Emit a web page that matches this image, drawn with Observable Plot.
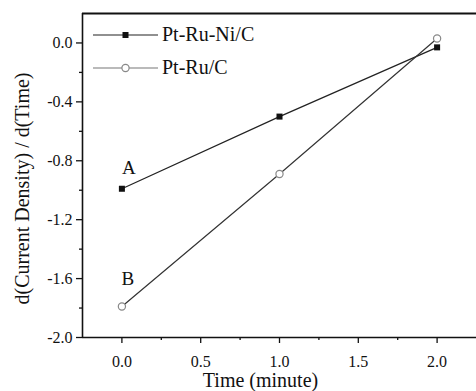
<!DOCTYPE html>
<html>
<head>
<meta charset="utf-8">
<script src="https://cdn.jsdelivr.net/npm/d3@7"></script>
<script src="https://cdn.jsdelivr.net/npm/@observablehq/plot@0.6"></script>
<style>
  html, body { margin: 0; padding: 0; background: #fff; }
  #wrap { position: relative; width: 476px; height: 391px; overflow: hidden; font-family: "Liberation Serif", "Times New Roman", serif; }
  #wrap svg text { font-family: "Liberation Serif", "Times New Roman", serif; }
  #legend { position: absolute; left: 93px; top: 18px; }
  .row { display: flex; align-items: center; height: 33px; }
  .row span { font-size: 20px; color: #111; margin-left: 4px; font-family: "Liberation Serif", serif; }
</style>
</head>
<body>
<div id="wrap"><div id="legend"></div></div>
<script>
const times = [0, 1, 2];
const ptRuNi = [-0.99, -0.50, -0.03];
const ptRu = [-1.79, -0.89, 0.03];
const seriesNames = ["Pt-Ru-Ni/C", "Pt-Ru/C"];
const pointLabels = ["A", "B"];
const xDomain = [-0.25, 2.25];
const yDomain = [-2.0, 0.2];
const xTicks = [0, 0.5, 1.0, 1.5, 2.0];
const xMinor = [0.25, 0.75, 1.25, 1.75];
const yTicks = [-2.0, -1.6, -1.2, -0.8, -0.4, 0.0];
const yMinor = [-1.8, -1.4, -1.0, -0.6, -0.2];
const xTitle = "Time (minute)";
const yTitle = "d(Current Density) / d(Time)";

const niData = times.map((t, i) => ({x: t, y: ptRuNi[i]}));
const ruData = times.map((t, i) => ({x: t, y: ptRu[i]}));
const fmt = d => d.toFixed(1);
const serif = "Liberation Serif, Times New Roman, serif";

const plot = Plot.plot({
  width: 476,
  height: 391,
  marginLeft: 82,
  marginTop: 13,
  marginRight: 0,
  marginBottom: 54,
  style: {fontFamily: serif, fontSize: "16px", color: "#111", background: "#fff"},
  x: {domain: xDomain, label: null},
  y: {domain: yDomain, label: null},
  marks: [
    Plot.axisX(xTicks, {tickSize: 6, tickPadding: 12, tickFormat: fmt, stroke: "#111", strokeWidth: 1.3, fontFamily: serif, fontSize: 16}),
    Plot.axisX(xMinor, {tickSize: 3, tickFormat: () => "", stroke: "#111", strokeWidth: 1.3}),
    Plot.axisY(yTicks, {tickSize: 6, tickPadding: 4, tickFormat: fmt, stroke: "#111", strokeWidth: 1.3, fontFamily: serif, fontSize: 16}),
    Plot.axisY(yMinor, {tickSize: 3, tickFormat: () => "", stroke: "#111", strokeWidth: 1.3}),
    Plot.ruleX([xDomain[0]], {stroke: "#111", strokeWidth: 1.6}),
    Plot.ruleY([yDomain[0]], {stroke: "#111", strokeWidth: 1.6}),
    Plot.ruleY([yDomain[1]], {stroke: "#111", strokeWidth: 1.8}),
    Plot.line(niData, {x: "x", y: "y", stroke: "#222", strokeWidth: 1.2}),
    Plot.line(ruData, {x: "x", y: "y", stroke: "#333", strokeWidth: 1.2}),
    Plot.dot(niData, {x: "x", y: "y", symbol: "square", r: 3.4, fill: "#111", stroke: "none"}),
    Plot.dot(ruData, {x: "x", y: "y", symbol: "circle", r: 3.6, fill: "#fff", stroke: "#888", strokeWidth: 1.2}),
    Plot.text([{x: times[0], y: ptRuNi[0], t: pointLabels[0]}], {x: "x", y: "y", text: "t", dx: 7, dy: -21, fontSize: 19, fill: "#111", fontFamily: serif}),
    Plot.text([{x: times[0], y: ptRu[0], t: pointLabels[1]}], {x: "x", y: "y", text: "t", dx: 6, dy: -28, fontSize: 19, fill: "#111", fontFamily: serif}),
    Plot.text([xTitle], {frameAnchor: "bottom", text: d => d, textAnchor: "middle", lineAnchor: "middle", dx: -19, dy: 43, fontSize: 20, fill: "#111", fontFamily: serif}),
    Plot.text([yTitle], {frameAnchor: "left", text: d => d, textAnchor: "middle", lineAnchor: "middle", rotate: -90, dx: -60, dy: 13, fontSize: 20, fill: "#111", fontFamily: serif})
  ]
});
document.getElementById("wrap").prepend(plot);

const legendSpecs = [
  {name: seriesNames[0], line: "#222", marker: `<rect x="29.5" y="7" width="6" height="6" fill="#111"/>`},
  {name: seriesNames[1], line: "#777", marker: `<circle cx="32.5" cy="10" r="3.6" fill="#fff" stroke="#888" stroke-width="1.2"/>`}
];
const legend = document.getElementById("legend");
legendSpecs.forEach(s => {
  const row = document.createElement("div");
  row.className = "row";
  row.innerHTML = `<svg width="65" height="20"><line x1="0" x2="65" y1="10" y2="10" stroke="${s.line}" stroke-width="1.2"/>${s.marker}</svg><span>${s.name}</span>`;
  legend.appendChild(row);
});
</script>
</body>
</html>
